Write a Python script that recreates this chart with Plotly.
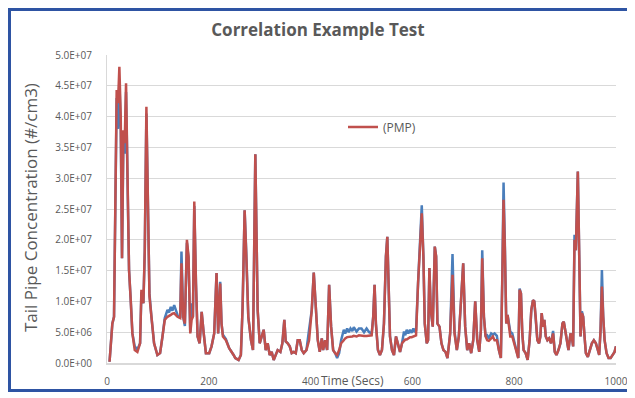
import plotly.graph_objects as go

# ---- data (concentration in #/cm3) ----
time_s = [5, 10.5, 13.8, 19, 21.7, 24.3, 27, 29.5, 32.2, 34.8, 37.4, 40, 43.3, 46.6, 49.9,
          54.5, 59.7, 65, 67.6, 71.5, 74.2, 77.4, 80.7, 83.4, 87.3, 92.5, 99, 104.3, 109,
          113.5, 118.8, 122, 125.3, 128.5, 132, 135, 138.5, 143.8, 146.3, 149.7, 153, 157,
          160.2, 163.6, 166.2, 168.8, 171.5, 174.8, 178, 182, 186, 190, 194.3, 200.8, 205.4,
          210.6, 215.2, 218.4, 222.4, 225, 227.7, 233.6, 240, 248.7, 252, 258.5, 263, 266.4,
          270.4, 273.7, 277.6, 282.9, 286.8, 291.4, 296, 300, 303.9, 307.8, 311.8, 315.7,
          319.6, 323.5, 327.5, 331.4, 335.3, 340.6, 344.5, 348.4, 351.1, 355, 359, 362.9,
          366.9, 370.8, 374.7, 378.6, 382.6, 386.5, 391.8, 397, 402.3, 406.2, 410.2, 414.1,
          418, 422, 424.6, 428.5, 432.5, 436.4, 440.3, 444.3, 448.2, 452.1, 456.1, 460,
          465.2, 468, 471.8, 475, 478.4, 482, 484.9, 490.3, 495, 500, 505, 510, 515, 520,
          523, 525.7, 528.3, 532.3, 536.2, 540.2, 544.1, 548, 550.7, 553.3, 556, 559.9,
          563.8, 567.8, 571.7, 575.7, 579.6, 583.5, 586, 588.8, 592, 595.3, 598.5, 601.9,
          604.5, 607.2, 611.1, 615.1, 618.4, 621.6, 624.3, 628.2, 630.8, 633.4, 636.1, 640,
          644, 646.6, 649.2, 653.2, 657.1, 661, 665, 668.9, 674.2, 678.8, 682.7, 687.3,
          691.2, 695.2, 699.8, 703.7, 707.7, 711.6, 715.5, 719.5, 723.4, 727.4, 731.3,
          734.6, 737.2, 740.5, 743.8, 747, 750.2, 754.8, 758.1, 761.4, 766, 769.9, 773.8,
          776.5, 779.1, 781.7, 784.4, 787, 789.6, 792.3, 796.2, 800.1, 804.1, 808, 810.6,
          813.3, 815.9, 818.5, 822.4, 826.4, 830.3, 833.6, 836.9, 839.5, 842.2, 845.5,
          848.8, 851.4, 854, 856.7, 859.3, 862, 865.2, 868.5, 872.4, 876.4, 879.7, 883,
          886.9, 890.8, 894.8, 897.4, 900.1, 902.7, 906.6, 910.6, 913.2, 915.8, 918.5,
          921.1, 925, 927.6, 930.3, 932.9, 935.5, 938.2, 940.8, 944.7, 948.7, 952.6, 956.5,
          960.5, 964.4, 967, 969.7, 972.3, 974.9, 977.6, 981.5, 985.4, 989.4, 993.3, 997.2,
          1000]

# PMP series (red), millions of #/cm3
pmp_m = [0.2, 6.4, 7.5, 44.3, 42.2, 48.1, 40, 17, 37.8, 35.7, 45.4, 31.9, 15.1, 10.2, 4.8,
         2.1, 1.8, 3.2, 11.9, 9.7, 18.3, 41.6, 20.5, 10.8, 7.5, 3.2, 1.3, 1.6, 4.3,
         7.0, 7.5, 7.6, 7.8, 8.0, 8.1, 7.8, 7.5, 7.3, 16.2, 7.5, 6.4, 20,
         17.3, 4.8, 7.0, 7.5, 26.2, 12.9, 4.3, 3.2, 8.3, 4.8, 1.6, 1.6, 2.7,
         4.8, 14.6, 4.8, 12.9, 6.4, 4.3, 3.7, 2.4, 1.3, 0.8, 0.5, 1.3, 9.1,
         24.8, 17.3, 7.5, 3.7, 2.1, 33.9, 8.6, 3.2, 4.3, 5.4, 2.1, 3.2,
         1.3, 1.8, 0.5, 1.3, 2.1, 1.8, 3.2, 7.0, 3.5, 3.2, 2.7, 1.6,
         1.8, 1.6, 3.7, 3.7, 2.1, 1.6, 2.1, 3.7, 8.6, 14.7, 8.1, 3.7,
         1.8, 4.0, 2.1, 3.7, 2.1, 12.7, 5.9, 2.1, 1.6, 1.3, 2.1, 3.2,
         3.7, 4.0, 4.2, 4.2, 4.3, 4.3, 4.4, 4.3, 4.5, 4.4, 4.4, 4.4, 4.5, 4.5,
         7.5, 12.7, 6.4, 2.1, 1.3, 2.1, 6.4, 17.3, 20.5, 12.9, 4.3, 2.1,
         1.3, 4.3, 3.2, 1.8, 3.2, 3.7, 3.8, 3.8, 4.0, 4.2, 4.2, 4.3,
         4.4, 4.5, 12.9, 19.4, 24.3, 17.3, 6.4, 3.2, 3.7, 15.4, 8.6, 5.9,
         18.9, 17.3, 6.4, 5.9, 3.2, 2.1, 1.8, 0.8, 4.8, 14.3, 4.8, 2.1,
         4.3, 9.7, 16.2, 5.9, 2.1, 3.2, 1.6, 3.7, 10, 3.7, 1.8,
         5.4, 17, 7.5, 4.3, 3.7, 3.6, 4.0, 4.3, 3.7, 3.7, 2.1, 0.8,
         12.9, 26.5, 18.3, 6.4, 7.8, 6.4, 4.3, 4.3, 3.2, 2.1, 0.8, 11.9,
         11.3, 4.8, 2.1, 1.6, 0.5, 3.7, 8.6, 10.2, 10.0, 7.5, 3.7,
         3.2, 4.3, 8.1, 5.9, 7.0, 4.3, 3.7, 4.0, 3.2, 4.8, 1.8, 1.3,
         2.1, 3.2, 6.4, 6.7, 5.4, 3.7, 2.1, 4.8, 4.3, 2.7, 20,
         18.3, 31.1, 18.3, 4.3, 8.1, 7.5, 4.3, 1.6, 1.0, 2.1, 3.2, 3.7,
         3.2, 2.1, 1.3, 5.4, 12.4, 7.5, 3.7, 1.6, 0.8, 0.8, 1.3, 1.8,
         2.7]

# Reference series (blue), millions of #/cm3
ref_m = [0.2, 6.4, 7.5, 43, 38, 46, 38, 17, 36, 34, 44, 31, 15.1, 10.2, 4.8,
         2.7, 2.2, 3.2, 11.5, 9.7, 18, 40.5, 20.5, 11.3, 7.5, 3.2, 1.3, 1.6, 4.3,
         7.3, 8.6, 8.2, 9.1, 8.5, 9.4, 8.6, 7.8, 7.3, 18.1, 7.5, 6.0, 19.5,
         17, 5.0, 9.7, 7.5, 25.5, 12.9, 4.3, 3.2, 8.3, 4.8, 1.6, 1.6, 2.7,
         4.8, 14.6, 4.8, 13.2, 6.4, 4.6, 3.9, 2.4, 1.3, 0.8, 0.5, 1.3, 9.1,
         24.8, 17.8, 7.5, 3.7, 2.1, 33.9, 8.6, 3.2, 4.3, 5.4, 2.1, 3.2,
         1.3, 1.8, 0.5, 1.3, 2.1, 1.8, 3.2, 7.0, 3.5, 3.2, 2.7, 1.6,
         1.8, 1.6, 3.7, 3.7, 2.1, 1.6, 2.1, 5.4, 8.6, 14.7, 8.1, 3.7,
         1.8, 4.0, 2.1, 3.7, 2.1, 12.7, 5.9, 2.1, 1.6, 0.8, 1.6, 3.7,
         5.4, 4.8, 5.6, 5.0, 5.6, 5.2, 5.8, 5.1, 5.6, 5.6, 5.0, 5.6, 5.0, 4.8,
         7.5, 12.7, 6.4, 2.1, 1.3, 2.1, 6.4, 17.3, 20.5, 12.9, 4.3, 2.1,
         1.3, 4.3, 3.2, 1.8, 3.2, 5.1, 4.5, 5.4, 4.8, 5.4, 4.9, 5.6,
         5.0, 5.3, 12.9, 19.4, 25.6, 17.3, 6.4, 3.2, 3.7, 15.4, 8.6, 5.9,
         18.9, 17.3, 6.4, 5.9, 3.2, 2.1, 1.8, 0.8, 4.8, 17.7, 5.2, 2.1,
         4.3, 9.7, 16.2, 5.9, 2.1, 3.2, 1.6, 3.7, 10, 3.7, 1.8,
         5.4, 18.3, 7.5, 4.3, 4.5, 4.0, 4.8, 4.6, 4.8, 4.4, 2.1, 0.8,
         13.5, 29.3, 19, 6.4, 7.8, 6.4, 5.1, 4.8, 3.2, 2.1, 0.8, 12.1,
         11.3, 4.8, 2.1, 1.6, 0.5, 3.7, 8.6, 10.2, 10.0, 7.5, 3.7,
         3.2, 4.3, 8.1, 5.9, 7.0, 4.3, 3.7, 4.0, 3.2, 5.2, 1.8, 1.3,
         2.1, 3.2, 6.4, 6.7, 5.4, 3.7, 2.1, 4.8, 4.3, 2.7, 20.8,
         18.3, 31.1, 18.3, 4.3, 8.4, 7.5, 4.3, 1.6, 1.0, 2.1, 3.2, 3.7,
         3.2, 2.1, 1.3, 5.4, 15.1, 7.5, 3.7, 1.6, 0.8, 0.8, 1.3, 1.8,
         2.7]

pmp = [v * 1e6 for v in pmp_m]
ref = [v * 1e6 for v in ref_m]

y_tick_values = [0, 5e6, 1e7, 1.5e7, 2e7, 2.5e7, 3e7, 3.5e7, 4e7, 4.5e7, 5e7]
y_tick_labels = ["0.0E+00", "5.0E+06", "1.0E+07", "1.5E+07", "2.0E+07", "2.5E+07",
                 "3.0E+07", "3.5E+07", "4.0E+07", "4.5E+07", "5.0E+07"]
x_tick_values = [0, 200, 400, 600, 800, 1000]
x_tick_labels = ["0", "200", "400", "600", "800", "1000"]

title_text = "Correlation Example Test"
y_title = "Tail Pipe Concentration (#/cm3)"
x_title = "Time (Secs)"

FONT = "Open Sans"
GREY = "#595959"

fig = go.Figure()
fig.add_trace(go.Scatter(x=time_s, y=ref, mode="lines", name="Reference",
                         line=dict(color="#4a7ebb", width=2.5), showlegend=False))
fig.add_trace(go.Scatter(x=time_s, y=pmp, mode="lines", name="(PMP)",
                         line=dict(color="#c0504d", width=2.5)))

# the page body adds an 8px offset; the figure is sized to fit inside the window
OFF = 8
W, H = 635 - OFF, 398 - OFF
# plot area in window pixels
PL, PR, PT, PB = 107, 616, 55, 363
L, R, T, B = PL - OFF, W - (PR - OFF), PT - OFF, H - (PB - OFF)
pw, ph = PR - PL, PB - PT

def px(xp):
    return (xp - PL) / pw

def py(yp):
    return (PB - yp) / ph

fig.update_layout(
    width=W, height=H,
    margin=dict(l=L, r=R, t=T, b=B, pad=0),
    paper_bgcolor="white", plot_bgcolor="white",
    font=dict(family=FONT, color=GREY),
    title=dict(text="<b>" + title_text + "</b>", x=(318 - OFF) / W, xanchor="center",
               y=1 - (30 - OFF) / H, yanchor="middle", yref="container",
               font=dict(size=17, color=GREY, family=FONT)),
    legend=dict(x=px(343), y=py(127), xanchor="left", yanchor="middle",
                bgcolor="rgba(0,0,0,0)", font=dict(size=12, color=GREY)),
    xaxis=dict(range=[0, 1000], tickvals=x_tick_values, ticktext=x_tick_labels,
               showgrid=False, zeroline=False, showline=True, linecolor="#d9d9d9",
               linewidth=1.5, ticks="outside", ticklen=8, tickcolor="rgba(0,0,0,0)",
               automargin=False, tickfont=dict(size=10, color=GREY)),
    yaxis=dict(range=[0, 5e7], tickvals=y_tick_values, ticktext=y_tick_labels,
               showgrid=True, gridcolor="#d9d9d9", gridwidth=1, zeroline=False,
               showline=True, linecolor="#d9d9d9", linewidth=1,
               ticks="outside", ticklen=12, tickcolor="rgba(0,0,0,0)",
               automargin=False, tickfont=dict(size=10, color=GREY)),
    annotations=[
        dict(text=y_title, xref="paper", yref="paper", x=px(30), y=py(208),
             xanchor="center", yanchor="middle", textangle=-90, showarrow=False,
             font=dict(size=17, color=GREY)),
        dict(text=x_title, xref="paper", yref="paper", x=px(352), y=py(380),
             xanchor="center", yanchor="middle", showarrow=False,
             font=dict(size=12, color=GREY)),
    ],
    shapes=[dict(type="rect", xref="paper", yref="paper",
                 x0=px(OFF + 1.5), x1=px(629.5), y0=py(390.5), y1=py(OFF + 1.5),
                 line=dict(color="#2e54a3", width=3), layer="above")],
)

fig.write_html("out.html")
